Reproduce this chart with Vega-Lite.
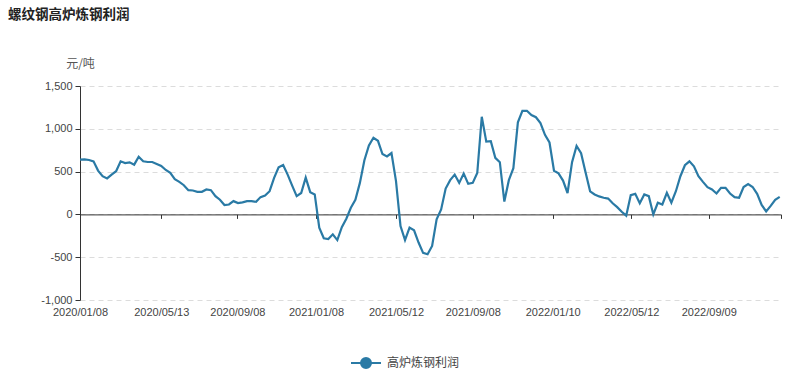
{
  "$schema": "https://vega.github.io/schema/vega-lite/v6.json",
  "width": 701,
  "height": 214,
  "autosize": {"type": "none"},
  "padding": {"left": 80, "top": 86, "right": 10, "bottom": 70},
  "background": "white",
  "title": {"text": "螺纹钢高炉炼钢利润", "anchor": "start", "frame": "group", "dx": -72, "dy": -32, "font": "Noto Sans CJK SC", "fontSize": 13.5, "fontWeight": "bold", "color": "#222"},
  "config": {"view": {"stroke": null}, "font": "Liberation Sans"},
  "data": {"values": [
    {"date": "2020-01-08", "value": 640, "series": "高炉炼钢利润"},
    {"date": "2020-01-15", "value": 643, "series": "高炉炼钢利润"},
    {"date": "2020-01-22", "value": 636, "series": "高炉炼钢利润"},
    {"date": "2020-01-29", "value": 620, "series": "高炉炼钢利润"},
    {"date": "2020-02-05", "value": 512, "series": "高炉炼钢利润"},
    {"date": "2020-02-12", "value": 446, "series": "高炉炼钢利润"},
    {"date": "2020-02-19", "value": 420, "series": "高炉炼钢利润"},
    {"date": "2020-02-26", "value": 465, "series": "高炉炼钢利润"},
    {"date": "2020-03-04", "value": 504, "series": "高炉炼钢利润"},
    {"date": "2020-03-11", "value": 620, "series": "高炉炼钢利润"},
    {"date": "2020-03-18", "value": 600, "series": "高炉炼钢利润"},
    {"date": "2020-03-25", "value": 608, "series": "高炉炼钢利润"},
    {"date": "2020-04-01", "value": 581, "series": "高炉炼钢利润"},
    {"date": "2020-04-08", "value": 674, "series": "高炉炼钢利润"},
    {"date": "2020-04-15", "value": 620, "series": "高炉炼钢利润"},
    {"date": "2020-04-22", "value": 612, "series": "高炉炼钢利润"},
    {"date": "2020-04-29", "value": 612, "series": "高炉炼钢利润"},
    {"date": "2020-05-06", "value": 589, "series": "高炉炼钢利润"},
    {"date": "2020-05-13", "value": 566, "series": "高炉炼钢利润"},
    {"date": "2020-05-20", "value": 519, "series": "高炉炼钢利润"},
    {"date": "2020-05-27", "value": 485, "series": "高炉炼钢利润"},
    {"date": "2020-06-03", "value": 411, "series": "高炉炼钢利润"},
    {"date": "2020-06-10", "value": 380, "series": "高炉炼钢利润"},
    {"date": "2020-06-17", "value": 341, "series": "高炉炼钢利润"},
    {"date": "2020-06-24", "value": 283, "series": "高炉炼钢利润"},
    {"date": "2020-07-01", "value": 279, "series": "高炉炼钢利润"},
    {"date": "2020-07-08", "value": 264, "series": "高炉炼钢利润"},
    {"date": "2020-07-15", "value": 264, "series": "高炉炼钢利润"},
    {"date": "2020-07-22", "value": 291, "series": "高炉炼钢利润"},
    {"date": "2020-07-29", "value": 283, "series": "高炉炼钢利润"},
    {"date": "2020-08-05", "value": 213, "series": "高炉炼钢利润"},
    {"date": "2020-08-12", "value": 171, "series": "高炉炼钢利润"},
    {"date": "2020-08-19", "value": 109, "series": "高炉炼钢利润"},
    {"date": "2020-08-26", "value": 116, "series": "高炉炼钢利润"},
    {"date": "2020-09-02", "value": 155, "series": "高炉炼钢利润"},
    {"date": "2020-09-09", "value": 132, "series": "高炉炼钢利润"},
    {"date": "2020-09-16", "value": 140, "series": "高炉炼钢利润"},
    {"date": "2020-09-23", "value": 155, "series": "高炉炼钢利润"},
    {"date": "2020-09-30", "value": 155, "series": "高炉炼钢利润"},
    {"date": "2020-10-07", "value": 147, "series": "高炉炼钢利润"},
    {"date": "2020-10-14", "value": 202, "series": "高炉炼钢利润"},
    {"date": "2020-10-21", "value": 221, "series": "高炉炼钢利润"},
    {"date": "2020-10-28", "value": 271, "series": "高炉炼钢利润"},
    {"date": "2020-11-04", "value": 426, "series": "高炉炼钢利润"},
    {"date": "2020-11-11", "value": 550, "series": "高炉炼钢利润"},
    {"date": "2020-11-18", "value": 578, "series": "高炉炼钢利润"},
    {"date": "2020-11-25", "value": 465, "series": "高炉炼钢利润"},
    {"date": "2020-12-02", "value": 337, "series": "高炉炼钢利润"},
    {"date": "2020-12-09", "value": 213, "series": "高炉炼钢利润"},
    {"date": "2020-12-16", "value": 250, "series": "高炉炼钢利润"},
    {"date": "2020-12-23", "value": 430, "series": "高炉炼钢利润"},
    {"date": "2020-12-30", "value": 260, "series": "高炉炼钢利润"},
    {"date": "2021-01-06", "value": 233, "series": "高炉炼钢利润"},
    {"date": "2021-01-13", "value": -155, "series": "高炉炼钢利润"},
    {"date": "2021-01-20", "value": -279, "series": "高炉炼钢利润"},
    {"date": "2021-01-27", "value": -287, "series": "高炉炼钢利润"},
    {"date": "2021-02-03", "value": -233, "series": "高炉炼钢利润"},
    {"date": "2021-02-10", "value": -300, "series": "高炉炼钢利润"},
    {"date": "2021-02-17", "value": -150, "series": "高炉炼钢利润"},
    {"date": "2021-02-24", "value": -50, "series": "高炉炼钢利润"},
    {"date": "2021-03-03", "value": 78, "series": "高炉炼钢利润"},
    {"date": "2021-03-10", "value": 171, "series": "高炉炼钢利润"},
    {"date": "2021-03-17", "value": 368, "series": "高炉炼钢利润"},
    {"date": "2021-03-24", "value": 632, "series": "高炉炼钢利润"},
    {"date": "2021-03-31", "value": 806, "series": "高炉炼钢利润"},
    {"date": "2021-04-07", "value": 895, "series": "高炉炼钢利润"},
    {"date": "2021-04-14", "value": 860, "series": "高炉炼钢利润"},
    {"date": "2021-04-21", "value": 705, "series": "高炉炼钢利润"},
    {"date": "2021-04-28", "value": 678, "series": "高炉炼钢利润"},
    {"date": "2021-05-05", "value": 717, "series": "高炉炼钢利润"},
    {"date": "2021-05-12", "value": 388, "series": "高炉炼钢利润"},
    {"date": "2021-05-19", "value": -136, "series": "高炉炼钢利润"},
    {"date": "2021-05-26", "value": -300, "series": "高炉炼钢利润"},
    {"date": "2021-06-02", "value": -155, "series": "高炉炼钢利润"},
    {"date": "2021-06-09", "value": -186, "series": "高炉炼钢利润"},
    {"date": "2021-06-16", "value": -329, "series": "高炉炼钢利润"},
    {"date": "2021-06-23", "value": -450, "series": "高炉炼钢利润"},
    {"date": "2021-06-30", "value": -465, "series": "高炉炼钢利润"},
    {"date": "2021-07-07", "value": -368, "series": "高炉炼钢利润"},
    {"date": "2021-07-14", "value": -58, "series": "高炉炼钢利润"},
    {"date": "2021-07-21", "value": 58, "series": "高炉炼钢利润"},
    {"date": "2021-07-28", "value": 302, "series": "高炉炼钢利润"},
    {"date": "2021-08-04", "value": 400, "series": "高炉炼钢利润"},
    {"date": "2021-08-11", "value": 465, "series": "高炉炼钢利润"},
    {"date": "2021-08-18", "value": 368, "series": "高炉炼钢利润"},
    {"date": "2021-08-25", "value": 477, "series": "高炉炼钢利润"},
    {"date": "2021-09-01", "value": 357, "series": "高炉炼钢利润"},
    {"date": "2021-09-08", "value": 368, "series": "高炉炼钢利润"},
    {"date": "2021-09-15", "value": 484, "series": "高炉炼钢利润"},
    {"date": "2021-09-22", "value": 1140, "series": "高炉炼钢利润"},
    {"date": "2021-09-29", "value": 850, "series": "高炉炼钢利润"},
    {"date": "2021-10-06", "value": 855, "series": "高炉炼钢利润"},
    {"date": "2021-10-13", "value": 660, "series": "高炉炼钢利润"},
    {"date": "2021-10-20", "value": 610, "series": "高炉炼钢利润"},
    {"date": "2021-10-27", "value": 150, "series": "高炉炼钢利润"},
    {"date": "2021-11-03", "value": 400, "series": "高炉炼钢利润"},
    {"date": "2021-11-10", "value": 540, "series": "高炉炼钢利润"},
    {"date": "2021-11-17", "value": 1075, "series": "高炉炼钢利润"},
    {"date": "2021-11-24", "value": 1210, "series": "高炉炼钢利润"},
    {"date": "2021-12-01", "value": 1210, "series": "高炉炼钢利润"},
    {"date": "2021-12-08", "value": 1160, "series": "高炉炼钢利润"},
    {"date": "2021-12-15", "value": 1135, "series": "高炉炼钢利润"},
    {"date": "2021-12-22", "value": 1066, "series": "高炉炼钢利润"},
    {"date": "2021-12-29", "value": 930, "series": "高炉炼钢利润"},
    {"date": "2022-01-05", "value": 840, "series": "高炉炼钢利润"},
    {"date": "2022-01-12", "value": 510, "series": "高炉炼钢利润"},
    {"date": "2022-01-19", "value": 480, "series": "高炉炼钢利润"},
    {"date": "2022-01-26", "value": 395, "series": "高炉炼钢利润"},
    {"date": "2022-02-02", "value": 250, "series": "高炉炼钢利润"},
    {"date": "2022-02-09", "value": 610, "series": "高炉炼钢利润"},
    {"date": "2022-02-16", "value": 800, "series": "高炉炼钢利润"},
    {"date": "2022-02-23", "value": 715, "series": "高炉炼钢利润"},
    {"date": "2022-03-02", "value": 490, "series": "高炉炼钢利润"},
    {"date": "2022-03-09", "value": 270, "series": "高炉炼钢利润"},
    {"date": "2022-03-16", "value": 233, "series": "高炉炼钢利润"},
    {"date": "2022-03-23", "value": 210, "series": "高炉炼钢利润"},
    {"date": "2022-03-30", "value": 194, "series": "高炉炼钢利润"},
    {"date": "2022-04-06", "value": 185, "series": "高炉炼钢利润"},
    {"date": "2022-04-13", "value": 130, "series": "高炉炼钢利润"},
    {"date": "2022-04-20", "value": 85, "series": "高炉炼钢利润"},
    {"date": "2022-04-27", "value": 31, "series": "高炉炼钢利润"},
    {"date": "2022-05-04", "value": -15, "series": "高炉炼钢利润"},
    {"date": "2022-05-11", "value": 225, "series": "高炉炼钢利润"},
    {"date": "2022-05-18", "value": 240, "series": "高炉炼钢利润"},
    {"date": "2022-05-25", "value": 130, "series": "高炉炼钢利润"},
    {"date": "2022-06-01", "value": 233, "series": "高炉炼钢利润"},
    {"date": "2022-06-08", "value": 213, "series": "高炉炼钢利润"},
    {"date": "2022-06-15", "value": 0, "series": "高炉炼钢利润"},
    {"date": "2022-06-22", "value": 136, "series": "高炉炼钢利润"},
    {"date": "2022-06-29", "value": 116, "series": "高炉炼钢利润"},
    {"date": "2022-07-06", "value": 252, "series": "高炉炼钢利润"},
    {"date": "2022-07-13", "value": 136, "series": "高炉炼钢利润"},
    {"date": "2022-07-20", "value": 271, "series": "高炉炼钢利润"},
    {"date": "2022-07-27", "value": 446, "series": "高炉炼钢利润"},
    {"date": "2022-08-03", "value": 574, "series": "高炉炼钢利润"},
    {"date": "2022-08-10", "value": 620, "series": "高炉炼钢利润"},
    {"date": "2022-08-17", "value": 562, "series": "高炉炼钢利润"},
    {"date": "2022-08-24", "value": 446, "series": "高炉炼钢利润"},
    {"date": "2022-08-31", "value": 380, "series": "高炉炼钢利润"},
    {"date": "2022-09-07", "value": 318, "series": "高炉炼钢利润"},
    {"date": "2022-09-14", "value": 291, "series": "高炉炼钢利润"},
    {"date": "2022-09-21", "value": 244, "series": "高炉炼钢利润"},
    {"date": "2022-09-28", "value": 310, "series": "高炉炼钢利润"},
    {"date": "2022-10-05", "value": 310, "series": "高炉炼钢利润"},
    {"date": "2022-10-12", "value": 244, "series": "高炉炼钢利润"},
    {"date": "2022-10-19", "value": 202, "series": "高炉炼钢利润"},
    {"date": "2022-10-26", "value": 194, "series": "高炉炼钢利润"},
    {"date": "2022-11-02", "value": 320, "series": "高炉炼钢利润"},
    {"date": "2022-11-09", "value": 355, "series": "高炉炼钢利润"},
    {"date": "2022-11-16", "value": 320, "series": "高炉炼钢利润"},
    {"date": "2022-11-23", "value": 240, "series": "高炉炼钢利润"},
    {"date": "2022-11-30", "value": 110, "series": "高炉炼钢利润"},
    {"date": "2022-12-07", "value": 35, "series": "高炉炼钢利润"},
    {"date": "2022-12-14", "value": 100, "series": "高炉炼钢利润"},
    {"date": "2022-12-21", "value": 170, "series": "高炉炼钢利润"},
    {"date": "2022-12-28", "value": 205, "series": "高炉炼钢利润"}
  ]},
  "mark": {"type": "line", "strokeWidth": 2.2},
  "encoding": {
    "x": {
      "field": "date", "type": "temporal",
      "scale": {"type": "utc", "domain": [{"year": 2020, "month": 1, "date": 8, "utc": true}, {"year": 2022, "month": 12, "date": 30, "utc": true}]},
      "axis": {
        "title": null,
        "values": [
          {"year": 2020, "month": 1, "date": 8, "utc": true},
          {"year": 2020, "month": 5, "date": 13, "utc": true},
          {"year": 2020, "month": 9, "date": 8, "utc": true},
          {"year": 2021, "month": 1, "date": 8, "utc": true},
          {"year": 2021, "month": 5, "date": 12, "utc": true},
          {"year": 2021, "month": 9, "date": 8, "utc": true},
          {"year": 2022, "month": 1, "date": 10, "utc": true},
          {"year": 2022, "month": 5, "date": 12, "utc": true},
          {"year": 2022, "month": 9, "date": 9, "utc": true},
          {"year": 2022, "month": 12, "date": 30, "utc": true}
        ],
        "labelExpr": "datum.value > datetime(2022, 10, 1) ? '' : utcFormat(datum.value, '%Y/%m/%d')",
        "offset": -85.6,
        "tickSize": 4,
        "labelPadding": 88,
        "labelFlush": false,
        "labelOverlap": false,
        "domainColor": "#333",
        "tickColor": "#333",
        "labelColor": "#444",
        "labelFontSize": 11,
        "grid": false
      }
    },
    "y": {
      "field": "value", "type": "quantitative",
      "scale": {"domain": [-1000, 1500], "nice": false, "zero": false},
      "axis": {
        "values": [-1000, -500, 0, 500, 1000, 1500],
        "labelExpr": "replace(format(datum.value, ',.0f'), '\u2212', '-')",
        "title": "元/吨",
        "titleAngle": 0,
        "titleX": 0,
        "titleY": -23,
        "titleAlign": "center",
        "titleBaseline": "middle",
        "titleFont": "Noto Sans CJK SC",
        "titleFontSize": 12,
        "titleFontWeight": "normal",
        "titleColor": "#555",
        "labelFontSize": 11,
        "labelColor": "#444",
        "labelPadding": 3,
        "tickSize": 5,
        "tickColor": "#333",
        "domainColor": "#333",
        "gridColor": "#dcdcdc",
        "gridDash": [5, 4]
      }
    },
    "color": {
      "field": "series", "type": "nominal",
      "scale": {"range": ["#2a7aa5"]},
      "legend": {
        "orient": "none",
        "legendX": 280,
        "legendY": 271,
        "title": null,
        "padding": 0,
        "symbolType": "M-3,0L3,0M1,0A1,1,0,1,1,-1,0A1,1,0,1,1,1,0Z",
        "symbolSize": 100,
        "symbolStrokeWidth": 2,
        "symbolFillColor": "#2a7aa5",
        "labelOffset": 15,
        "labelFont": "Noto Sans CJK SC",
        "labelFontSize": 12,
        "labelColor": "#444"
      }
    }
  }
}
